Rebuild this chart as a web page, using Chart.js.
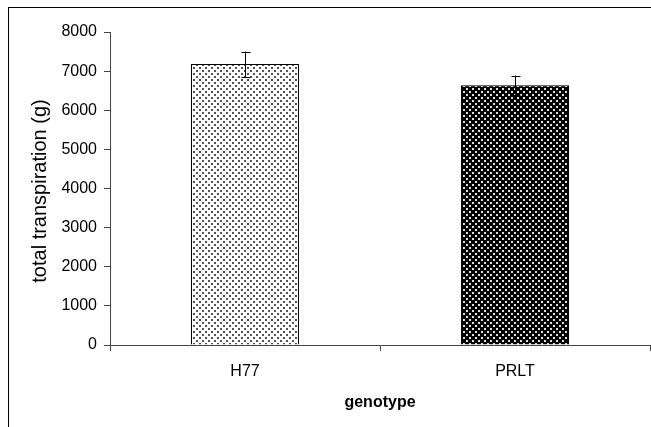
<!DOCTYPE html>
<html>
<head>
<meta charset="utf-8">
<script src="https://cdn.jsdelivr.net/npm/chart.js@4"></script>
<style>
  html, body { margin: 0; padding: 0; background: #fff; }
  #wrap { width: 651px; height: 427px; }
</style>
</head>
<body>
<div id="wrap"><canvas id="chart" width="651" height="427"></canvas></div>
<script>
// data
const genotypes = ["H77", "PRLT"];
const transpiration = [7180, 6640];
const errors = [320, 245];
const yTicks = [0, 1000, 2000, 3000, 4000, 5000, 6000, 7000, 8000];
const yTitle = "total transpiration (g)";

// dotted fill, 6px tile with two offset dots
function dotPattern(bg, dot) {
  const c = document.createElement("canvas");
  c.width = 6;
  c.height = 6;
  const g = c.getContext("2d");
  g.fillStyle = bg;
  g.fillRect(0, 0, 6, 6);
  g.fillStyle = dot;
  g.fillRect(1, 1, 2, 2);
  g.fillRect(4, 4, 2, 2);
  return g.createPattern(c, "repeat");
}

// error bars drawn through the y scale
const errorBars = {
  id: "errorBars",
  afterDatasetsDraw(chart) {
    const ctx = chart.ctx;
    const y = chart.scales.y;
    const meta = chart.getDatasetMeta(0);
    ctx.save();
    ctx.strokeStyle = "#000";
    ctx.lineWidth = 1;
    meta.data.forEach((bar, i) => {
      const x = Math.round(bar.x) + 0.5;
      const top = y.getPixelForValue(transpiration[i] + errors[i]);
      const bot = y.getPixelForValue(transpiration[i] - errors[i]);
      ctx.beginPath();
      ctx.moveTo(x, top);
      ctx.lineTo(x, bot);
      ctx.moveTo(x - 4, Math.round(top) + 0.5);
      ctx.lineTo(x + 5, Math.round(top) + 0.5);
      ctx.moveTo(x - 4, Math.round(bot) + 0.5);
      ctx.lineTo(x + 5, Math.round(bot) + 0.5);
      ctx.stroke();
    });
    ctx.restore();
  },
};

// outer frame (right and bottom run off the picture) + rotated y title
const frame = {
  id: "frame",
  afterDraw(chart) {
    const ctx = chart.ctx;
    ctx.save();
    ctx.strokeStyle = "#000";
    ctx.lineWidth = 1;
    ctx.strokeRect(8.5, 7.5, 700, 500);
    ctx.translate(40, 191);
    ctx.rotate(-Math.PI / 2);
    ctx.fillStyle = "#000";
    ctx.font = "20px 'Liberation Sans', Arial, sans-serif";
    ctx.textAlign = "center";
    ctx.textBaseline = "middle";
    ctx.fillText(yTitle, 0, 0);
    ctx.restore();
  },
};

Chart.defaults.font.family = "'Liberation Sans', Arial, sans-serif";
Chart.defaults.color = "#000";

const data = {
  labels: genotypes,
  datasets: [
    {
      data: transpiration,
      backgroundColor: [dotPattern("#fff", "#555"), dotPattern("#000", "#ddd")],
      borderColor: "#000",
      borderWidth: 1,
      barPercentage: 0.4,
      categoryPercentage: 1,
    },
  ],
};

const config = {
  type: "bar",
  data: data,
  options: {
    responsive: false,
    animation: false,
    layout: { padding: { top: 32, right: 1, bottom: 0, left: 20 } },
    plugins: { legend: { display: false }, tooltip: { enabled: false } },
    scales: {
      x: {
        grid: { drawOnChartArea: false, drawTicks: true, tickLength: 6, color: "#444", offset: true },
        border: { color: "#444" },
        ticks: { font: { size: 16 }, padding: 11 },
        title: { display: true, text: "genotype", font: { size: 16, weight: "bold" }, padding: { top: 0, bottom: 15 } },
        afterFit(scale) { scale.height = 82; },
      },
      y: {
        min: 0,
        max: 8000,
        afterBuildTicks(scale) { scale.ticks = yTicks.map((v) => ({ value: v })); },
        grid: { drawOnChartArea: false, drawTicks: true, tickLength: 6, color: "#444" },
        border: { color: "#444" },
        ticks: { font: { size: 16 }, padding: 7, callback: (v) => String(v) },
        afterFit(scale) { scale.width = 90; },
      },
    },
  },
  plugins: [errorBars, frame],
};

const myChart = new Chart(document.getElementById("chart"), config);
</script>
</body>
</html>
